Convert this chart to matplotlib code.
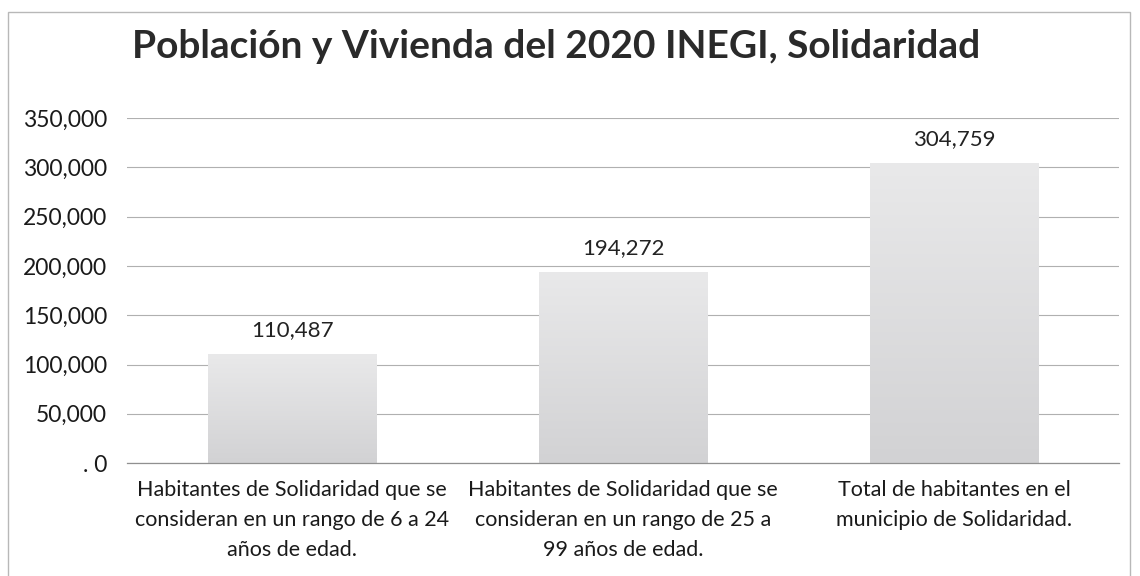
import matplotlib.pyplot as plt
import numpy as np
from matplotlib.patches import Rectangle
from matplotlib.ticker import FuncFormatter

# data
categories = [
    "Habitantes de Solidaridad que se\nconsideran en un rango de 6 a 24\naños de edad.",
    "Habitantes de Solidaridad que se\nconsideran en un rango de 25 a\n99 años de edad.",
    "Total de habitantes en el\nmunicipio de Solidaridad.",
]
values = [110487, 194272, 304759]
yticks = [0, 50000, 100000, 150000, 200000, 250000, 300000, 350000]

plt.rcParams['font.family'] = ['Lato', 'DejaVu Sans']

fig = plt.figure(figsize=(11.4, 5.76), dpi=100)
fig.patch.set_facecolor('white')
# outer chart frame
fig.patches.append(Rectangle((8 / 1140, -0.05), 1122 / 1140, 1 - 12 / 576 + 0.05,
                             transform=fig.transFigure, fill=False,
                             edgecolor='#b8b8b8', linewidth=1.0))

ax = fig.add_axes([0.111, 0.196, 0.871, 0.599])
x = np.arange(len(values))
bars = ax.bar(x, values, width=0.51, color='#dcdcdc', edgecolor='#c4c4c4',
              linewidth=0.6, zorder=2)

# soft vertical gradient on each bar
grad = np.linspace(0, 1, 256).reshape(-1, 1)
cmap = plt.matplotlib.colors.LinearSegmentedColormap.from_list('g', ['#d2d2d4', '#e9e9ea'])
for b in bars:
    bx, by, bw, bh = b.get_x(), b.get_y(), b.get_width(), b.get_height()
    im = ax.imshow(grad, extent=[bx, bx + bw, by, by + bh], aspect='auto',
                   cmap=cmap, origin='lower', zorder=2.5)
    im.set_clip_path(b)

for xi, v in zip(x, values):
    ax.annotate(f"{v:,}", (xi, v), xytext=(0, 10), textcoords='offset points',
                ha='center', va='bottom', fontsize=16, color='#222222')

ax.set_xlim(-0.5, 2.5)
ax.set_ylim(0, 350000)
ax.set_yticks(yticks)
ax.yaxis.set_major_formatter(FuncFormatter(lambda v, p: '. 0' if v == 0 else f"{int(v):,}"))
ax.set_xticks(x)
ax.set_xticklabels(categories, fontsize=15.5, linespacing=1.62, color='#1a1a1a')
ax.tick_params(axis='y', labelsize=16.5, length=0, pad=14, colors='#1a1a1a')
ax.tick_params(axis='x', length=0, pad=12)
ax.grid(axis='y', color='#b0b0b0', linewidth=0.8, zorder=0)
for s in ['top', 'right', 'left']:
    ax.spines[s].set_visible(False)
ax.spines['bottom'].set_color('#909090')
ax.spines['bottom'].set_linewidth(0.9)

fig.text(0.488, 0.92, "Población y Vivienda del 2020 INEGI, Solidaridad",
         ha='center', va='center', fontsize=28, fontweight='bold', color='#2a2a2a')

fig.savefig('out.png', dpi=100)
